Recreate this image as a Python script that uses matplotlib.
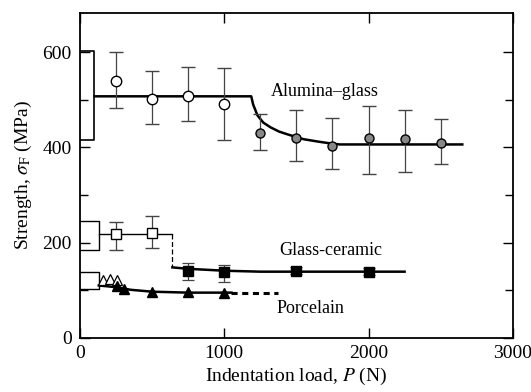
import matplotlib
matplotlib.use("Agg")
import matplotlib.pyplot as plt
from matplotlib.ticker import MultipleLocator, FixedLocator

plt.rcParams['font.family'] = ['Liberation Serif', 'DejaVu Serif']
plt.rcParams['mathtext.fontset'] = 'stix'

# ---- Alumina-glass ----
ag_open_P = [250, 500, 750, 1000]
ag_open_S = [539, 501, 507, 491]
ag_open_lo = [482, 448, 455, 415]
ag_open_hi = [600, 560, 568, 566]
ag_fill_P = [1250, 1500, 1750, 2000, 2250, 2500]
ag_fill_S = [429, 419, 402, 419, 417, 408]
ag_fill_lo = [394, 371, 354, 345, 348, 366]
ag_fill_hi = [469, 478, 461, 486, 478, 459]
ag_box_P = [0, 100, 100, 0]
ag_box_S = [602, 602, 415, 415]
ag_line_P = [100, 1187, 1200, 1230, 1270, 1320, 1380, 1440, 1550, 1650, 1740, 1800, 2650]
ag_line_S = [507, 507, 490, 467, 452, 442, 433, 427, 417, 412, 408, 406, 406]

# ---- Glass-ceramic ----
gc_open_P = [250, 500]
gc_open_S = [219, 221]
gc_open_lo = [185, 189]
gc_open_hi = [244, 255]
gc_fill_P = [750, 1000, 1500, 2000]
gc_fill_S = [141, 139, 141, 139]
gc_fill_lo = [122, 118, 134, 131]
gc_fill_hi = [158, 154, 148, 147]
gc_box_P = [0, 130, 130, 0]
gc_box_S = [246, 246, 185, 185]
gc_line1_P = [130, 640]
gc_line1_S = [219, 219]
gc_drop_P = [640, 640]
gc_drop_S = [219, 148]
gc_line2_P = [640, 750, 1000, 1250, 1500, 2250]
gc_line2_S = [148, 145, 141, 139, 139, 139]

# ---- Porcelain ----
po_open_P = [160, 208, 257]
po_open_S = [122, 124, 122]
po_fill_P = [257, 306, 500, 750, 1000]
po_fill_S = [109, 103, 97, 97, 95]
po_box_P = [0, 130, 130, 0]
po_box_S = [139, 139, 103, 103]
po_line_P = [130, 200, 260, 350, 500, 750, 1050]
po_line_S = [110, 108, 106, 101, 97, 95, 95]
po_dash_P = [1050, 1370]
po_dash_S = [95, 95]

x_ticks = [0, 1000, 2000, 3000]
y_ticks = [0, 200, 400, 600]

fig = plt.figure(figsize=(5.31, 3.92), dpi=100)
ax = fig.add_axes([0.1507, 0.138, 0.815, 0.829])

k = 'black'
ecol = '#444444'
lw = 1.8

# Alumina-glass
ax.plot(ag_box_P, ag_box_S, color=k, lw=1.2)
ax.plot(ag_line_P, ag_line_S, color=k, lw=lw)
ax.errorbar(ag_open_P, ag_open_S,
            yerr=[[s - l for s, l in zip(ag_open_S, ag_open_lo)], [h - s for s, h in zip(ag_open_S, ag_open_hi)]],
            fmt='o', mfc='white', mec=k, mew=1.0, ms=7.5, ecolor=ecol, elinewidth=0.9, capsize=5, capthick=0.9, zorder=3)
ax.errorbar(ag_fill_P, ag_fill_S,
            yerr=[[s - l for s, l in zip(ag_fill_S, ag_fill_lo)], [h - s for s, h in zip(ag_fill_S, ag_fill_hi)]],
            fmt='o', mfc='#888888', mec=k, mew=1.0, ms=6.5, ecolor=ecol, elinewidth=0.9, capsize=5, capthick=0.9, zorder=3)

# Glass-ceramic
ax.plot(gc_box_P, gc_box_S, color=k, lw=1.0)
ax.plot(gc_line1_P, gc_line1_S, color=k, lw=1.0)
ax.plot(gc_drop_P, gc_drop_S, color=k, lw=0.9, ls=(0, (4, 2)))
ax.plot(gc_line2_P, gc_line2_S, color=k, lw=lw)
ax.errorbar(gc_open_P, gc_open_S,
            yerr=[[s - l for s, l in zip(gc_open_S, gc_open_lo)], [h - s for s, h in zip(gc_open_S, gc_open_hi)]],
            fmt='s', mfc='white', mec=k, mew=1.0, ms=7, ecolor=ecol, elinewidth=0.9, capsize=5, capthick=0.9, zorder=3)
ax.errorbar(gc_fill_P, gc_fill_S,
            yerr=[[s - l for s, l in zip(gc_fill_S, gc_fill_lo)], [h - s for s, h in zip(gc_fill_S, gc_fill_hi)]],
            fmt='s', mfc=k, mec=k, ms=6.5, ecolor=ecol, elinewidth=0.9, capsize=4, capthick=0.9, zorder=3)

# Porcelain
ax.plot(po_box_P, po_box_S, color=k, lw=1.0)
ax.plot(po_line_P, po_line_S, color=k, lw=lw)
ax.plot(po_dash_P, po_dash_S, color=k, lw=2.2, ls=(0, (2, 1.5)))
ax.plot(po_open_P, po_open_S, '^', mfc='white', mec=k, mew=0.9, ms=7, zorder=3)
ax.plot(po_fill_P, po_fill_S, '^', mfc=k, mec=k, ms=7, zorder=4)

# Labels
ax.text(1700, 518, 'Alumina\u2013glass', fontsize=13, ha='center', va='center')
ax.text(1736, 183, 'Glass-ceramic', fontsize=13, ha='center', va='center')
ax.text(1597, 61, 'Porcelain', fontsize=13, ha='center', va='center')

ax.set_xlim(0, 3000)
ax.set_ylim(0, 682)
ax.xaxis.set_major_locator(FixedLocator(x_ticks))
ax.yaxis.set_major_locator(FixedLocator(y_ticks))
ax.yaxis.set_minor_locator(MultipleLocator(100))
ax.tick_params(which='both', direction='in', top=True, right=True, labelsize=14, pad=6)
ax.tick_params(which='major', length=7, width=1.0)
ax.tick_params(which='minor', length=6, width=1.0)
ax.xaxis.set_tick_params(pad=5)
for s in ax.spines.values():
    s.set_linewidth(1.3)

ax.set_xlabel('Indentation load, $P$ (N)', fontsize=14, labelpad=3)
ax.set_ylabel('Strength, $\\sigma_\\mathrm{F}$ (MPa)', fontsize=14, labelpad=6)

fig.savefig('out.png', dpi=100)
